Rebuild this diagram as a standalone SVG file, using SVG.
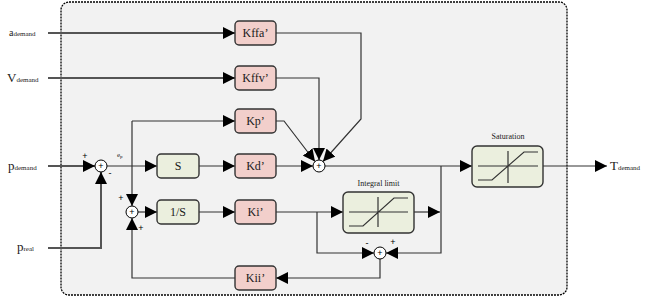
<svg xmlns="http://www.w3.org/2000/svg" width="650" height="297" viewBox="0 0 650 297">
<style>
.box{stroke:#333;stroke-width:1.4}
.k{fill:#f2cfcb}
.g{fill:#ebefde}
.t{font-family:"Liberation Serif",serif;font-size:12px;fill:#1a1a1a;text-anchor:middle;dominant-baseline:central}
.sm{font-family:"Liberation Serif",serif;font-size:8px;fill:#1a1a1a;text-anchor:middle}
.sign{font-family:"Liberation Sans",sans-serif;font-size:9px;fill:#000;text-anchor:middle}
.lbl{font-family:"Liberation Serif",serif;fill:#1a1a1a}
.sub{font-size:7px}
.c{fill:none;stroke:#333;stroke-width:1.2}
.in{fill:none;stroke:#555;stroke-width:2}
.sum{fill:#fff;stroke:#000;stroke-width:1}
.curve{fill:none;stroke:#333;stroke-width:1.2}
</style>
<defs>
<marker id="ar" markerUnits="userSpaceOnUse" markerWidth="12" markerHeight="12" refX="12" refY="6" orient="auto">
<path d="M0,0 L12,6 L0,12 z" fill="#000"/>
</marker>
</defs>
<rect x="61" y="2" width="506" height="293" rx="8" fill="#f2f2f2" stroke="#000" stroke-width="1.3" stroke-dasharray="2,1"/>
<g id="connectors">
<path class="in" d="M48,33 H235" marker-end="url(#ar)"/>
<path class="in" d="M48,78 H235" marker-end="url(#ar)"/>
<path class="in" d="M48,166 H95" marker-end="url(#ar)"/>
<path class="in" d="M48,248 H101 V172" marker-end="url(#ar)"/>
<path class="c" d="M107,166 H157" marker-end="url(#ar)"/>
<path class="c" stroke="#000" d="M132,121 V206" marker-end="url(#ar)"/>
<path class="c" stroke="#000" d="M132,121 H235" marker-end="url(#ar)"/>
<path class="c" d="M138,212 H157" marker-end="url(#ar)"/>
<path class="c" d="M199,212 H235" marker-end="url(#ar)"/>
<path class="c" d="M199,166 H235" marker-end="url(#ar)"/>
<path class="c" d="M276,166 H313" marker-end="url(#ar)"/>
<path class="c" stroke="#555" d="M276,33 H361 V119 L323,161.5" marker-end="url(#ar)"/>
<path class="c" stroke="#555" d="M276,78 H319 V160" marker-end="url(#ar)"/>
<path class="c" d="M276,121 H284 L315,161.5" marker-end="url(#ar)"/>
<path class="c" d="M325,166 H472" marker-end="url(#ar)"/>
<path class="c" d="M543,166 H607" marker-end="url(#ar)"/>
<path class="c" d="M276,212 H343" marker-end="url(#ar)"/>
<path class="c" d="M317,212 V253 H374" marker-end="url(#ar)"/>
<path class="c" d="M414,212 H440" marker-end="url(#ar)"/>
<path class="c" d="M441,166 V253 H386" marker-end="url(#ar)"/>
<path class="c" d="M380,259 V278 H276" marker-end="url(#ar)"/>
<path class="c" d="M235,278 H132 V218" marker-end="url(#ar)"/>
</g>
<g id="Kffa"><rect class="box k" x="235" y="21" width="41" height="24" rx="4"/><text class="t" x="255.5" y="33">Kffa’</text></g>
<g id="Kffv"><rect class="box k" x="235" y="66" width="41" height="24" rx="4"/><text class="t" x="255.5" y="78">Kffv’</text></g>
<g id="Kp"><rect class="box k" x="235" y="109" width="41" height="24" rx="4"/><text class="t" x="255.5" y="121">Kp’</text></g>
<g id="Kd"><rect class="box k" x="235" y="154" width="41" height="24" rx="4"/><text class="t" x="255.5" y="166">Kd’</text></g>
<g id="Ki"><rect class="box k" x="235" y="200" width="41" height="24" rx="4"/><text class="t" x="255.5" y="212">Ki’</text></g>
<g id="Kii"><rect class="box k" x="235" y="266" width="41" height="24" rx="4"/><text class="t" x="255.5" y="278">Kii’</text></g>
<g id="S"><rect class="box g" x="157" y="154" width="42" height="24" rx="4"/><text class="t" x="178" y="166">S</text></g>
<g id="Int"><rect class="box g" x="157" y="200" width="42" height="24" rx="4"/><text class="t" x="178" y="212">1/S</text></g>
<g id="IntegralLimit">
<rect class="box g" x="343" y="192" width="71" height="41" rx="5"/>
<path class="curve" d="M349,212 H408 M378,197 V227 M349,226 H363 L394,198 H408"/>
<text class="sm" x="378.5" y="186">Integral limit</text>
</g>
<g id="Saturation">
<rect class="box g" x="472" y="146" width="71" height="41" rx="5"/>
<path class="curve" d="M478,166 H538 M508,151 V183 M478,180 H492 L524,152 H538"/>
<text class="sm" x="508" y="139">Saturation</text>
</g>
<g id="sum1"><circle class="sum" cx="101" cy="166" r="6"/><text class="sign" x="101" y="169">+</text></g>
<g id="sum2"><circle class="sum" cx="132" cy="212" r="6"/><text class="sign" x="132" y="215">+</text></g>
<g id="sum3"><circle class="sum" cx="319" cy="166" r="6"/><text class="sign" x="319" y="169">+</text></g>
<g id="sum4"><circle class="sum" cx="380" cy="253" r="6"/><text class="sign" x="380" y="256">+</text></g>
<g id="signs">
<text class="sign" x="85" y="159">+</text>
<text class="sign" x="110" y="176">-</text>
<text class="sign" x="121" y="201">+</text>
<text class="sign" x="141" y="231">+</text>
<text class="sign" x="367" y="246">-</text>
<text class="sign" x="393" y="245">+</text>
<text class="lbl" x="117" y="157" font-size="7">e<tspan font-size="5" dy="1">p</tspan></text>
</g>
<g id="labels">
<text class="lbl" x="9" y="36" font-size="10">a<tspan class="sub">demand</tspan></text>
<text class="lbl" x="7" y="82" font-size="13">V<tspan class="sub">demand</tspan></text>
<text class="lbl" x="8" y="170" font-size="13">p<tspan class="sub">demand</tspan></text>
<text class="lbl" x="17" y="251" font-size="13">p<tspan class="sub">real</tspan></text>
<text class="lbl" x="610" y="170" font-size="13">T<tspan class="sub">demand</tspan></text>
</g>
</svg>
